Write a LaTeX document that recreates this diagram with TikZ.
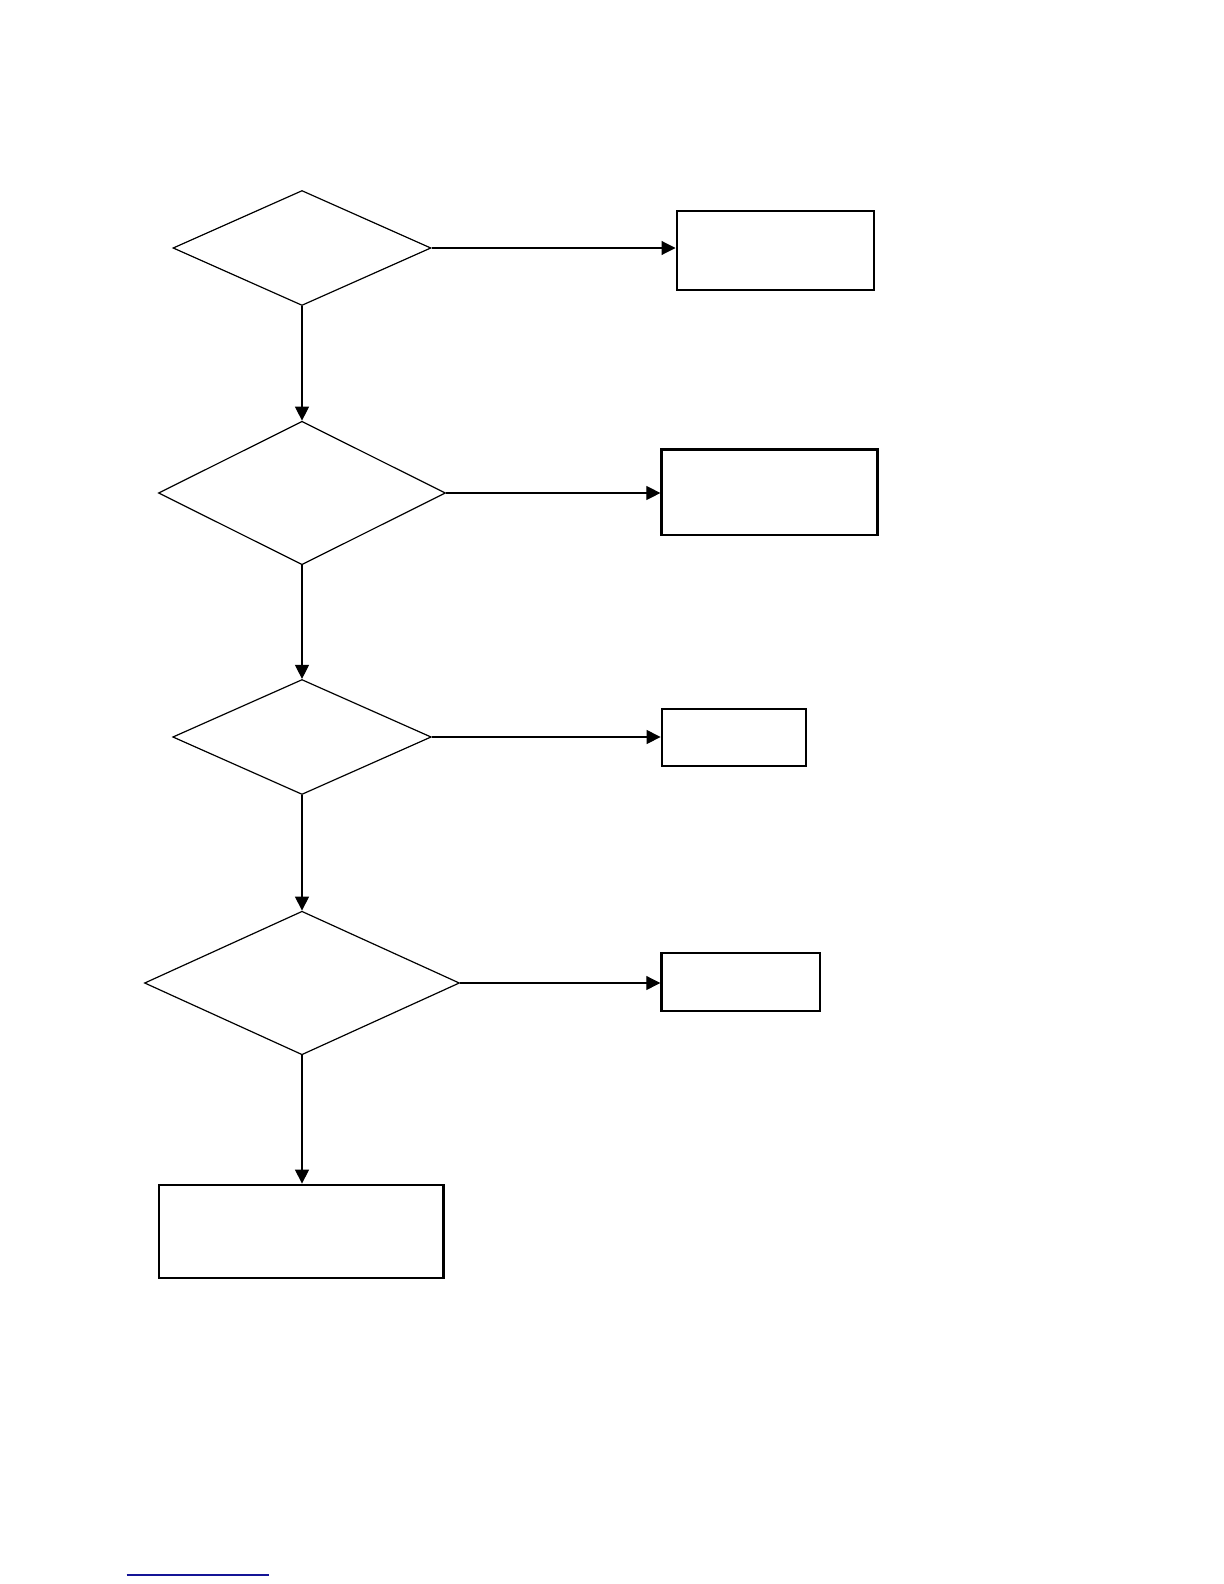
\documentclass[tikz,border=0pt]{standalone}
\usetikzlibrary{shapes.geometric,arrows.meta}
\definecolor{linkblue}{RGB}{20,20,150}
\tikzset{
  decision/.style={diamond,draw,line width=0.6pt,inner sep=0pt,minimum width=#1},
  stepbox/.style={rectangle,draw,line width=1.1pt,inner sep=0pt},
  flow/.style={draw,line width=0.55pt,-{Triangle[length=7pt,width=7pt]}}
}
\begin{document}
\begin{tikzpicture}[x=0.5pt,y=-0.5pt]
\useasboundingbox[fill=white] (0,0) rectangle (1224,1584);
\node[decision=129pt,minimum height=57.5pt] (d1) at (302,248) {};
\node[decision=143.5pt,minimum height=71.75pt] (d2) at (302,493) {};
\node[decision=129.25pt,minimum height=57.5pt] (d3) at (302,737) {};
\node[decision=157.5pt,minimum height=71.8pt] (d4) at (302,983) {};
\node[stepbox,minimum width=98.7pt,minimum height=39.5pt] (b1) at (775.3,250.5) {};
\node[stepbox,minimum width=108pt,minimum height=42.9pt] (b2) at (769.5,492.3) {};
\node[stepbox,minimum width=72pt,minimum height=28.5pt] (b3) at (733.7,737.5) {};
\node[stepbox,minimum width=79.3pt,minimum height=28.8pt] (b4) at (740.7,982.1) {};
\node[stepbox,minimum width=142.2pt,minimum height=46.8pt] (b5) at (301.2,1231.5) {};
\draw[flow] (d1.east) -- (d1.east -| b1.west);
\draw[flow] (d2.east) -- (d2.east -| b2.west);
\draw[flow] (d3.east) -- (d3.east -| b3.west);
\draw[flow] (d4.east) -- (d4.east -| b4.west);
\draw[flow] (d1.south) -- (d2.north);
\draw[flow] (d2.south) -- (d3.north);
\draw[flow] (d3.south) -- (d4.north);
\draw[flow] (d4.south) -- (d4.south |- b5.north);
\coordinate (u1) at (126.7,1575);
\coordinate (u2) at (269,1575);
\draw[linkblue,line width=0.6pt] (u1) -- (u2);
\end{tikzpicture}
\end{document}
